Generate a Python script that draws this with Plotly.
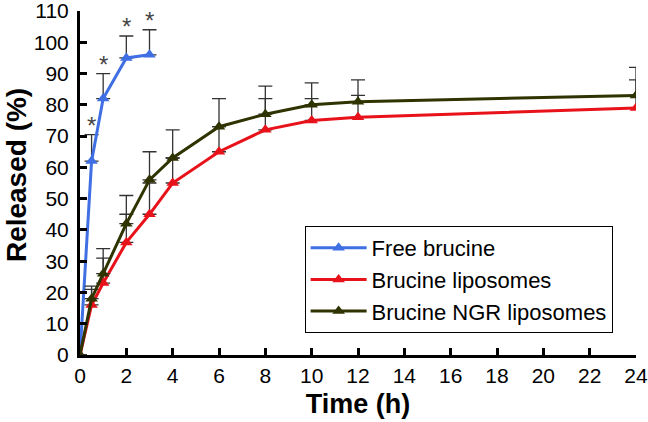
import plotly.graph_objects as go

time_h = [0, 0.5, 1, 2, 3, 4, 6, 8, 10, 12, 24]
free_time = [0, 0.5, 1, 2, 3]
free_brucine = [0, 62, 82, 95, 96]
free_err = [0, 8.5, 8, 7, 8]
lipo = [0, 16, 23, 36, 45, 55, 65, 72, 75, 76, 79]
lipo_err = [0, 5, 8, 9, 10, 8, 8, 10, 7, 7, 9]
ngr = [0, 18, 26, 42, 56, 63, 73, 77, 80, 81, 83]
ngr_err = [0, 4, 8, 9, 9, 9, 9, 9, 7, 7, 9]
x_ticks = list(range(0, 25, 2))
y_ticks = list(range(0, 111, 10))

BLUE = "#3f6fe3"
RED = "#e8121a"
OLIVE = "#2f3300"
ERR = "#333333"
FONT = "Liberation Sans, Arial, sans-serif"

fig = go.Figure()

def add(x, y, e, name, color):
    fig.add_trace(go.Scatter(
        x=x, y=y, name=name, mode="lines+markers",
        line=dict(color=color, width=3),
        marker=dict(symbol="triangle-up", size=11, color=color),
        error_y=dict(type="data", array=e, arrayminus=[0] * len(e), symmetric=False,
                     color=ERR, thickness=1.3, width=7),
    ))

add(free_time, free_brucine, free_err, "Free brucine", BLUE)
add(time_h, lipo, lipo_err, "Brucine liposomes", RED)
add(time_h, ngr, ngr_err, "Brucine NGR liposomes", OLIVE)

for xv, yv, ev in zip(free_time[1:], free_brucine[1:], free_err[1:]):
    fig.add_annotation(x=xv, y=yv + ev, text="*", showarrow=False, yanchor="bottom",
                       yshift=-6, font=dict(size=24, color="#444444", family=FONT))

# y-axis title placed as an annotation for exact placement
fig.add_annotation(xref="paper", yref="paper", x=-0.1151, y=0.523, text="<b>Released (%)</b>",
                   textangle=-90, showarrow=False, xanchor="center", yanchor="middle",
                   font=dict(size=28, color="black", family=FONT))

fig.update_layout(
    width=648, height=422,
    margin=dict(l=80, r=12, t=11, b=67),
    paper_bgcolor="white", plot_bgcolor="white",
    font=dict(family=FONT, size=21, color="black"),
    showlegend=True,
    legend=dict(x=0.404, y=0.375, xanchor="left", yanchor="top",
                bordercolor="black", borderwidth=1, bgcolor="white",
                font=dict(size=22), tracegroupgap=0, itemwidth=56),
)
fig.update_xaxes(
    range=[0, 24], tickvals=x_ticks, ticks="inside", ticklen=7, tickwidth=2.5,
    tickcolor="black", showline=True, linewidth=3, linecolor="black",
    showgrid=False, zeroline=False, automargin=False, ticklabeloverflow="allow",
    title=dict(text="<b>Time (h)</b>", font=dict(size=27), standoff=8),
)
fig.update_yaxes(
    range=[0, 110], tickvals=y_ticks, ticks="inside", ticklen=7, tickwidth=2.5,
    tickcolor="black", showline=True, linewidth=3, linecolor="black",
    showgrid=False, zeroline=False, automargin=False, ticklabelstandoff=4,
    ticklabeloverflow="allow",
)

fig.write_html("out.html", config={"displayModeBar": False},
               post_script="document.body.style.margin='0';")
